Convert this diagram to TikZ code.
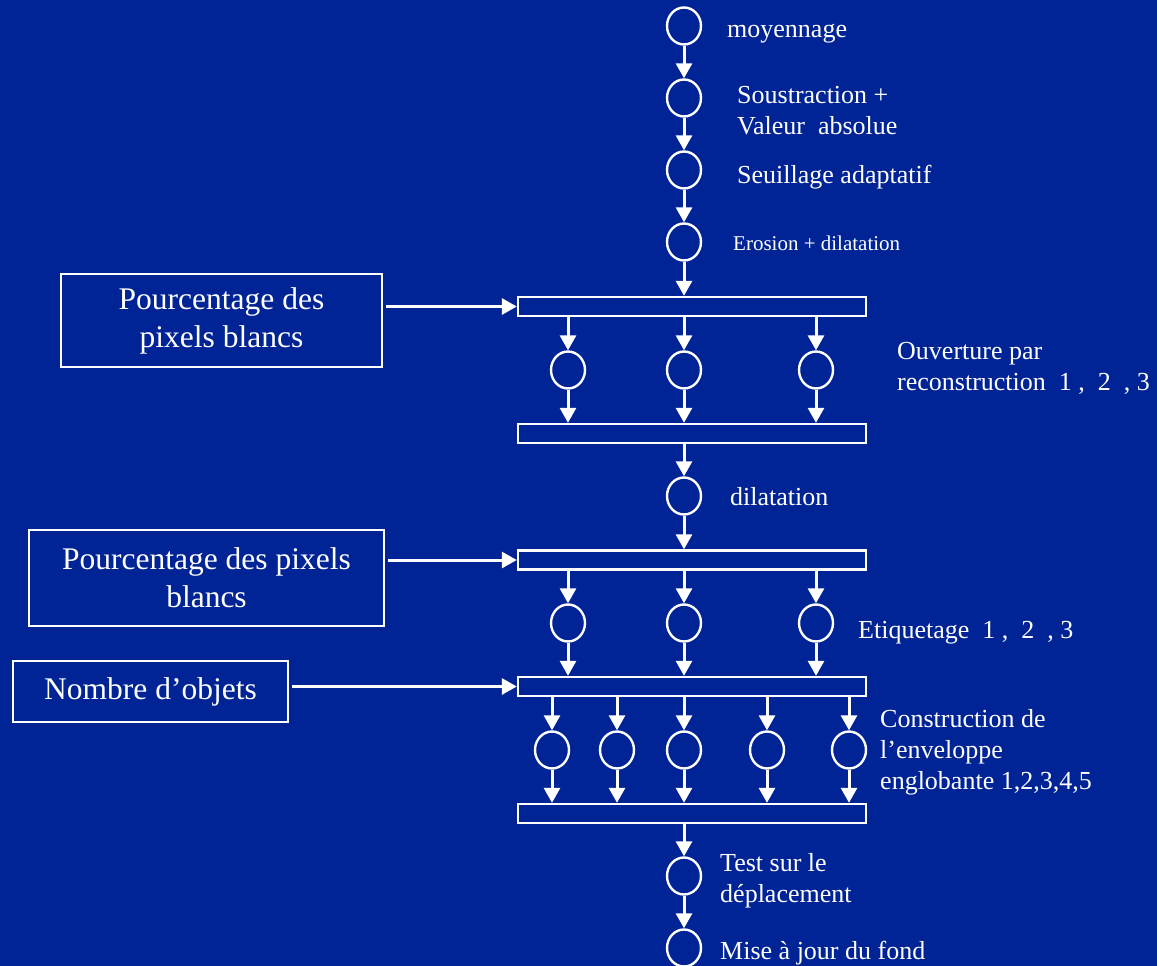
\documentclass[tikz,border=0pt]{standalone}
\usepackage{fontspec}
\setmainfont{Liberation Serif}
\usetikzlibrary{arrows.meta,shapes.geometric}
\definecolor{slideblue}{RGB}{0,36,150}
\begin{document}
\begin{tikzpicture}[x=1pt,y=-1pt,
  op/.style={draw=white,line width=2.4pt,ellipse,minimum width=34pt,minimum height=37pt,inner sep=0pt},
  bar/.style={draw=white,line width=2.4pt,rectangle,minimum width=348pt,minimum height=19pt,inner sep=0pt},
  inbox/.style={draw=white,line width=1.8pt,rectangle,inner sep=0pt,align=center,text=white,font=\fontsize{31.5}{38}\selectfont},
  lbl/.style={text=white,anchor=base west,align=left,inner sep=0pt,font=\fontsize{26}{31}\selectfont},
  flow/.style={draw=white,line width=3pt,-{Triangle[width=16pt,length=15pt]}},
]
% slide background
\fill[slideblue] (0,0) rectangle (1157,966);
\useasboundingbox (0,0) rectangle (1157,966);

% main column of operators
\node[op] (m1) at (684,26) {};
\node[op] (m2) at (684,98) {};
\node[op] (m3) at (684,170) {};
\node[op] (m4) at (684,242) {};

% first parallel stage
\node[bar] (b1) at (692,306.5) {};
\node[op] (o1) at (568,370) {};
\node[op] (o2) at (684,370) {};
\node[op] (o3) at (816,370) {};
\node[bar] (b2) at (692,433.5) {};

\node[op] (d1) at (684,496) {};

% second parallel stage
\node[bar] (b3) at (692,560) {};
\node[op] (e1) at (568,623) {};
\node[op] (e2) at (684,623) {};
\node[op] (e3) at (816,623) {};
\node[bar] (b4) at (692,686.5) {};

% third parallel stage
\node[op] (c1) at (552,750) {};
\node[op] (c2) at (617,750) {};
\node[op] (c3) at (684,750) {};
\node[op] (c4) at (767,750) {};
\node[op] (c5) at (849,750) {};
\node[bar] (b5) at (692,813.5) {};

\node[op] (t1) at (684,876) {};
\node[op] (t2) at (684,948) {};

% parameter boxes
\node[inbox,minimum width=321pt,minimum height=93pt] (p1) at (221.5,320.5) {Pourcentage des\\pixels blancs};
\node[inbox,minimum width=355pt,minimum height=96pt] (p2) at (206.5,578) {Pourcentage des pixels\\blancs};
\node[inbox,minimum width=275pt,minimum height=61pt] (p3) at (150.5,691.5) {Nombre d’objets};

% labels (multi-line labels are placed by the baseline of their last line)
\node[lbl] (l1) at (727,38) {moyennage};
\node[lbl] (l2) at (737,134) {Soustraction +\\Valeur~~absolue};
\node[lbl] (l3) at (737,183) {Seuillage adaptatif};
\node[lbl,font=\fontsize{21}{25}\selectfont] (l4) at (733,250) {Erosion + dilatation};
\node[lbl] (l5) at (897,390) {Ouverture par\\reconstruction~~1 ,~~2~~, 3};
\node[lbl] (l6) at (730,505) {dilatation};
\node[lbl] (l7) at (858,638) {Etiquetage~~1 ,~~2~~, 3};
\node[lbl] (l8) at (880,789) {Construction de\\l’enveloppe\\englobante 1,2,3,4,5};
\node[lbl] (l9) at (720,902) {Test sur le\\déplacement};
\node[lbl] (l10) at (720,959) {Mise à jour du fond};

% connectors
\draw[flow] (m1) -- (m2);
\draw[flow] (m2) -- (m3);
\draw[flow] (m3) -- (m4);
\draw[flow] (m4.south) -- (m4 |- b1.north);
\foreach \c in {o1,o2,o3} {
  \draw[flow] (\c |- b1.south) -- (\c.north);
  \draw[flow] (\c.south) -- (\c |- b2.north);
}
\draw[flow] (d1 |- b2.south) -- (d1.north);
\draw[flow] (d1.south) -- (d1 |- b3.north);
\foreach \c in {e1,e2,e3} {
  \draw[flow] (\c |- b3.south) -- (\c.north);
  \draw[flow] (\c.south) -- (\c |- b4.north);
}
\foreach \c in {c1,c2,c3,c4,c5} {
  \draw[flow] (\c |- b4.south) -- (\c.north);
  \draw[flow] (\c.south) -- (\c |- b5.north);
}
\draw[flow] (t1 |- b5.south) -- (t1.north);
\draw[flow] (t1) -- (t2);

\draw[flow,shorten <=3pt] (p1.east |- b1.west) -- (b1.west);
\draw[flow,shorten <=3pt] (p2.east |- b3.west) -- (b3.west);
\draw[flow,shorten <=3pt] (p3.east |- b4.west) -- (b4.west);
\end{tikzpicture}
\end{document}
